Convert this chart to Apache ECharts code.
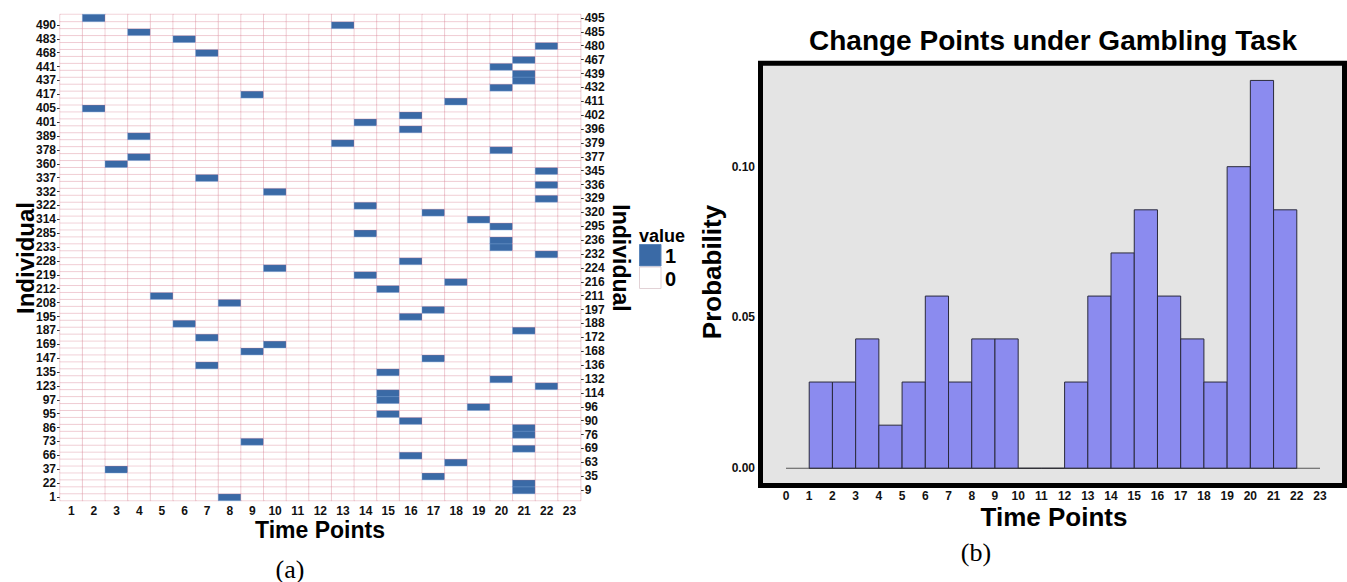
<!DOCTYPE html>
<html><head><meta charset="utf-8">
<script src="https://cdn.jsdelivr.net/npm/echarts@6/dist/echarts.min.js"></script>
<style>html,body{margin:0;padding:0;background:#fff}#c{width:1347px;height:582px}</style>
</head><body><div id="c"></div>
<script>
// ---------- data ----------
const individuals = [1,9,22,35,37,63,66,69,73,76,86,90,95,96,97,114,123,132,135,136,147,168,169,172,187,188,195,197,208,211,212,216,219,224,228,232,233,236,285,295,314,320,322,329,332,336,337,345,360,377,378,379,389,396,401,402,405,411,417,432,437,439,441,467,468,480,483,485,490,495];
const timePoints = ['1','2','3','4','5','6','7','8','9','10','11','12','13','14','15','16','17','18','19','20','21','22','23'];
// individuals with a change point (value 1) at each time point 1..23
const changeIndividuals = [
  [],
  [495,405],
  [360,37],
  [485,389,377],
  [211],
  [483,188],
  [468,337,172,136],
  [208,1],
  [417,168,73],
  [332,224,169],
  [],
  [],
  [490,379],
  [401,322,285,219],
  [212,135,114,97,95],
  [402,396,228,195,90,66],
  [320,197,147,35],
  [411,216,63],
  [314,96],
  [441,432,378,295,236,233,132],
  [467,439,437,187,86,76,69,22,9],
  [480,345,336,329,232,123],
  []
];
const legendValues = ['1','0'];
const binEdges = [1,2,3,4,5,6,7,8,9,10,11,12,13,14,15,16,17,18,19,20,21,22];
const probability = [0.0286,0.0286,0.0429,0.0143,0.0286,0.0571,0.0286,0.0429,0.0429,0,0,0.0286,0.0571,0.0714,0.0857,0.0571,0.0429,0.0286,0.1000,0.1286,0.0857];
const probTicks = [0, 0.05, 0.10];
const timeRange = [0, 23];

// ---------- build ----------
const BLUE = '#3a6aa6';
const heatData = [];
timePoints.forEach((t, i) => {
  individuals.forEach((ind, j) => {
    const v = changeIndividuals[i].indexOf(ind) >= 0 ? 1 : 0;
    heatData.push(v ? {value: [i, j, 1], itemStyle: {borderColor: 'rgba(120,160,210,0.45)'}} : [i, j, 0]);
  });
});
const bins = probability.map((p, i) => [binEdges[i], binEdges[i + 1], p]);

const FONT = "'Liberation Sans', Arial, Helvetica, sans-serif";
const lbl = (size, extra) => Object.assign({fontFamily: FONT, fontWeight: 'bold', fontSize: size, color: '#111'}, extra || {});
const txt = (text, x, y, size, rot, extra) => ({
  type: 'text', x: x, y: y, rotation: rot || 0,
  style: Object.assign({text: text, fill: '#000', font: 'bold ' + size + 'px ' + FONT, textAlign: 'center', textVerticalAlign: 'middle'}, extra || {})
});

const chart = echarts.init(document.getElementById('c'), null, {renderer: 'svg'});
chart.setOption({
  animation: false,
  backgroundColor: '#fff',
  grid: [
    {left: 60, top: 14.5, width: 520.7, height: 486},
    {left: 786, top: 76.2, width: 534, height: 392.1}
  ],
  xAxis: [
    {type: 'category', gridIndex: 0, data: timePoints,
     axisLine: {show: false}, axisTick: {show: false},
     axisLabel: lbl(12, {margin: 4, interval: 0}),
     splitLine: {show: true, interval: 0, lineStyle: {color: '#cc8692', width: 1}}},
    {type: 'value', gridIndex: 1, min: timeRange[0], max: timeRange[1], interval: 1,
     axisLine: {show: false}, axisTick: {show: false}, splitLine: {show: false},
     axisLabel: lbl(12, {margin: 22})}
  ],
  yAxis: [
    {type: 'category', gridIndex: 0, data: individuals, position: 'left',
     axisLine: {show: false},
     axisTick: {show: true, alignWithLabel: true, length: 3, interval: (i) => i % 2 === 0, lineStyle: {color: '#333'}},
     axisLabel: lbl(12, {margin: 4, interval: (i) => i % 2 === 0}),
     splitLine: {show: false}},
    {type: 'category', gridIndex: 0, data: individuals, position: 'right',
     axisLine: {show: false},
     axisTick: {show: true, alignWithLabel: true, length: 3, interval: (i) => i % 2 === 1, lineStyle: {color: '#333'}},
     axisLabel: lbl(12, {margin: 4, interval: (i) => i % 2 === 1}),
     splitLine: {show: false}},
    {type: 'value', gridIndex: 1, min: 0, max: 0.13, interval: 0.05,
     axisLine: {show: false}, axisTick: {show: false}, splitLine: {show: false},
     axisLabel: lbl(12, {margin: 31, formatter: (v) => probTicks.some(t => Math.abs(t - v) < 1e-9) ? v.toFixed(2) : ''})}
  ],
  visualMap: {type: 'piecewise', show: false, seriesIndex: 0, dimension: 2,
    pieces: [{value: 1, color: BLUE}, {value: 0, color: '#ffffff'}]},
  series: [
    {type: 'heatmap', xAxisIndex: 0, yAxisIndex: 0, data: heatData,
     itemStyle: {borderColor: 'rgba(215,120,140,0.32)', borderWidth: 1},
     emphasis: {disabled: true}},
    {type: 'custom', xAxisIndex: 1, yAxisIndex: 2, data: bins, encode: {x: [0, 1], y: 2}, z: 3,
     renderItem: (params, api) => {
       const p0 = api.coord([api.value(0), api.value(2)]);
       const p1 = api.coord([api.value(1), 0]);
       return {type: 'rect', shape: {x: p0[0], y: p0[1], width: p1[0] - p0[0], height: p1[1] - p0[1]},
         style: {fill: '#8b8bef', stroke: '#2a2a3c', lineWidth: 1}};
     }},
    {type: 'line', xAxisIndex: 1, yAxisIndex: 2, z: 4, symbol: 'none',
     data: [[timeRange[0], 0], [timeRange[1], 0]],
     lineStyle: {color: '#333', width: 1}}
  ],
  graphic: [
    {type: 'rect', z: 0, shape: {x: 760.5, y: 63.2, width: 584, height: 422.3},
     style: {fill: '#e4e4e4', stroke: '#000', lineWidth: 5}},
    txt('Change Points under Gambling Task', 1053, 40, 28),
    txt('Time Points', 1054, 517, 26),
    txt('Probability', 712, 272, 26, Math.PI / 2),
    txt('Time Points', 320, 530, 23),
    txt('Individual', 25, 258, 24, Math.PI / 2),
    txt('Individual', 621, 258, 23, -Math.PI / 2),
    txt('value', 639, 236, 18, 0, {textAlign: 'left'}),
    {type: 'rect', shape: {x: 639.5, y: 244.5, width: 21.5, height: 21.5}, style: {fill: BLUE, stroke: '#5a86bb', lineWidth: 1}},
    {type: 'rect', shape: {x: 639.5, y: 267, width: 21.5, height: 21.5}, style: {fill: '#fff', stroke: '#e2d2d6', lineWidth: 1}},
    txt(legendValues[0], 665, 256, 20, 0, {textAlign: 'left'}),
    txt(legendValues[1], 665, 279, 20, 0, {textAlign: 'left'}),
    txt('(a)', 290, 569, 26, 0, {font: '26px "Liberation Serif", "DejaVu Serif", serif'}),
    txt('(b)', 976, 552, 26, 0, {font: '26px "Liberation Serif", "DejaVu Serif", serif'})
  ]
});
</script>
</body></html>
